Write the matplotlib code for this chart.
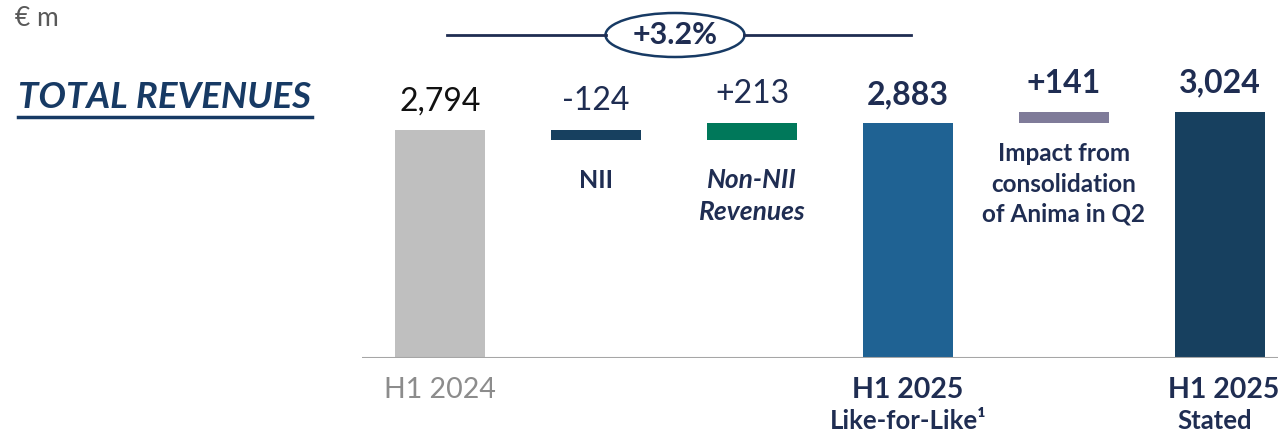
import matplotlib.pyplot as plt
from matplotlib.patches import Ellipse

plt.rcParams['font.family'] = ['Lato', 'DejaVu Sans']

# data
steps = ['H1 2024', 'NII', 'Non-NII', 'H1 2025 LfL', 'Anima', 'H1 2025 Stated']
values = [2794, -124, 213, 2883, 141, 3024]
is_total = [True, False, False, True, False, True]
value_labels = ['2,794', '-124', '+213', '2,883', '+141', '3,024']
bar_colors = ['#BFBFBF', '#17405F', '#00785A', '#1F6293', '#7F7B99', '#17405F']
growth_label = '+3.2%'

navy = '#1F2D52'

fig = plt.figure(figsize=(12.78, 4.37), dpi=100)
ax = fig.add_axes([362 / 1278, 79 / 437, 916 / 1278, 358 / 437])
ax.set_xlim(-0.5, 5.372)
ax.set_ylim(0, 4393)
ax.axis('off')

# waterfall bars
running = 0
tops = []
for i, (v, tot, c) in enumerate(zip(values, is_total, bar_colors)):
    if tot:
        bottom, height = 0, v
        running = v
    else:
        if v < 0:
            bottom, height = running + v, -v
        else:
            bottom, height = running, v
        running += v
    ax.bar(i, height, bottom=bottom, width=0.577, color=c, zorder=2)
    tops.append(bottom + height)

ax.axhline(0, color='#A6A6A6', lw=1.5, zorder=3)

# value labels
label_style = [
    dict(color='#111111', weight='normal'),
    dict(color=navy, weight='normal'),
    dict(color=navy, weight='normal'),
    dict(color=navy, weight='bold'),
    dict(color=navy, weight='bold'),
    dict(color=navy, weight='bold'),
]
for i, (lab, st) in enumerate(zip(value_labels, label_style)):
    ax.annotate(lab, (i, tops[i]), xytext=(0, 10), textcoords='offset points',
                ha='center', va='bottom', fontsize=23, **st)

# step descriptions
ax.annotate('NII', (1, values[0] + values[1]), xytext=(0, -29), textcoords='offset points',
            ha='center', va='center', fontsize=18, weight='bold', color=navy)
ax.annotate('Non-NII\nRevenues', (2, values[0] + values[1]), xytext=(0, -40),
            textcoords='offset points', ha='center', va='center', fontsize=19,
            weight='bold', style='italic', color=navy, linespacing=1.4)
ax.annotate('Impact from\nconsolidation\nof Anima in Q2', (4, values[3]), xytext=(0, -44),
            textcoords='offset points', ha='center', va='center', fontsize=17.5,
            weight='bold', color=navy, linespacing=1.38)

# x labels
fig.text(440 / 1278, 1 - 390 / 437, 'H1 2024', ha='center', va='center',
         fontsize=20.5, color='#8C8C8C')
fig.text(908 / 1278, 1 - 390 / 437, 'H1 2025', ha='center', va='center',
         fontsize=20.5, weight='bold', color=navy)
fig.text(908 / 1278, 1 - 421 / 437, 'Like-for-Like¹', ha='center', va='center',
         fontsize=18.5, weight='bold', color=navy)
fig.text(1224 / 1278, 1 - 390 / 437, 'H1 2025', ha='center', va='center',
         fontsize=20.5, weight='bold', color=navy)
fig.text(1215 / 1278, 1 - 421 / 437, 'Stated', ha='center', va='center',
         fontsize=18.5, weight='bold', color=navy)

# header texts
fig.text(15 / 1278, 1 - 19 / 437, '€ m', ha='left', va='center', fontsize=19, color='#595959')
fig.text(18 / 1278, 1 - 98 / 437, 'TOTAL REVENUES', ha='left', va='center',
         fontsize=26.4, weight='bold', style='italic', color='#173A64')
fig.add_artist(plt.Line2D([18 / 1278, 312 / 1278], [1 - 117 / 437, 1 - 117 / 437],
                          color='#173A64', lw=2.5))

# growth bracket
yl = 1 - 35 / 437
fig.add_artist(plt.Line2D([447 / 1278, 606 / 1278], [yl, yl], color=navy, lw=2))
fig.add_artist(plt.Line2D([744 / 1278, 911 / 1278], [yl, yl], color=navy, lw=2))
fig.add_artist(Ellipse((675 / 1278, yl), 139 / 1278, 44 / 437, facecolor='white',
                       edgecolor='#173A64', lw=1.8, transform=fig.transFigure))
fig.text(675 / 1278, yl, growth_label, ha='center', va='center', fontsize=22,
         weight='bold', color=navy)

fig.savefig('out.png', dpi=100, facecolor='white')
